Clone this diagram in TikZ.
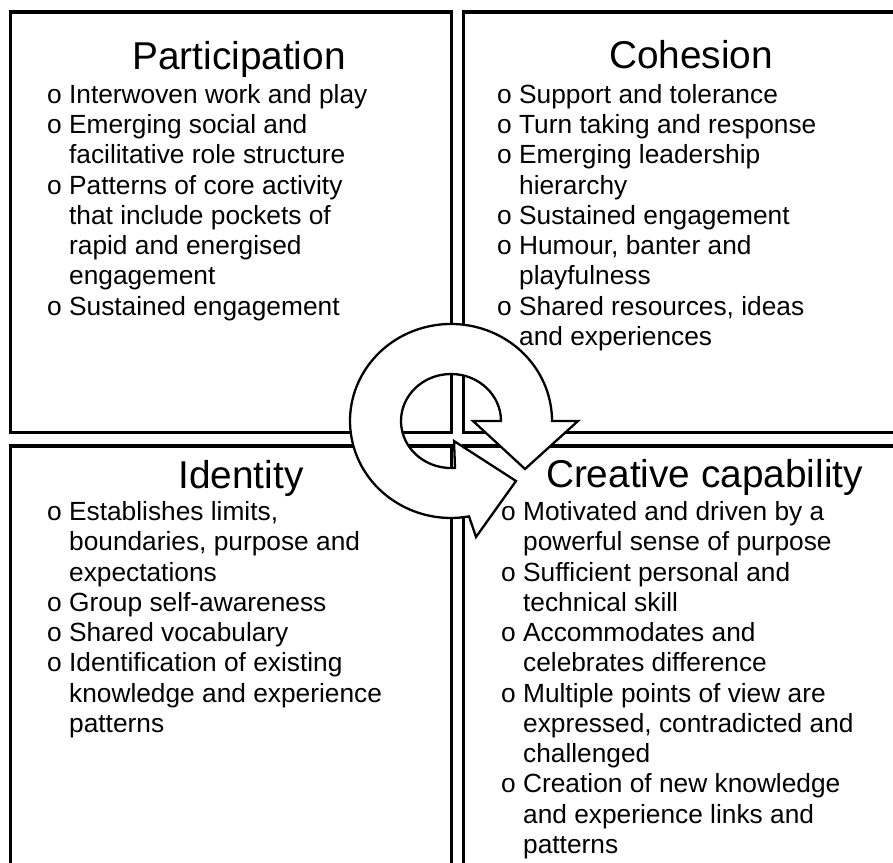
\documentclass[tikz,border=0pt]{standalone}
\usepackage{fontspec}
\setmainfont{Liberation Sans}
\newcommand{\bul}[1]{\hbox{o\ #1}}
\newcommand{\cnt}[1]{\hbox{\hphantom{o\ }#1}}
\begin{document}
\begin{tikzpicture}[x=1pt,y=-1pt,
  box/.style={line width=3.6pt, draw=black},
  ttl/.style={anchor=base, inner sep=0pt, font=\fontsize{38.8pt}{44pt}\selectfont},
  body/.style={anchor=base west, inner sep=0pt, font=\fontsize{26.3pt}{30.27pt}\selectfont},
  cyc/.style={draw=black, fill=white, line width=2.3pt, line join=miter}]
\useasboundingbox (0,0) rectangle (893,862);
\clip (0,0) rectangle (893,862);
% quadrant frames
\draw[box] (10.3,12) rectangle (451.3,432.5);
\draw[box] (463.3,12) rectangle (950,432.5);
\draw[box] (10.3,446) rectangle (451.3,920);
\draw[box] (463.3,446) rectangle (950,920);
% titles
\node[ttl] (tP) at (239,69) {Participation};
\node[ttl] (tC) at (691,68.5) {Cohesion};
\node[ttl] (tI) at (241,488) {Identity};
\node[ttl] (tCC) at (704.5,487) {Creative capability};
% bodies
\node[body] (bP) at (47,103.3) {\vtop{%
  \bul{Interwoven work and play}
  \bul{Emerging social and}
  \cnt{facilitative role structure}
  \bul{Patterns of core activity}
  \cnt{that include pockets of}
  \cnt{rapid and energised}
  \cnt{engagement}
  \bul{Sustained engagement}}};
\node[body] (bC) at (497,103.3) {\vtop{%
  \bul{Support and tolerance}
  \bul{Turn taking and response}
  \bul{Emerging leadership}
  \cnt{hierarchy}
  \bul{Sustained engagement}
  \bul{Humour, banter and}
  \cnt{playfulness}
  \bul{Shared resources, ideas}
  \cnt{and experiences}}};
\node[body] (bI) at (47,520.5) {\vtop{%
  \bul{Establishes limits,}
  \cnt{boundaries, purpose and}
  \cnt{expectations}
  \bul{Group self-awareness}
  \bul{Shared vocabulary}
  \bul{Identification of existing}
  \cnt{knowledge and experience}
  \cnt{patterns}}};
\node[body] (bCC) at (501,520.5) {\vtop{%
  \bul{Motivated and driven by a}
  \cnt{powerful sense of purpose}
  \bul{Sufficient personal and}
  \cnt{technical skill}
  \bul{Accommodates and}
  \cnt{celebrates difference}
  \bul{Multiple points of view are}
  \cnt{expressed, contradicted and}
  \cnt{challenged}
  \bul{Creation of new knowledge}
  \cnt{and experience links and}
  \cnt{patterns}}};
% central cycle arrow
\coordinate (cc) at (451,421);
\draw[cyc] (552,421) -- (578,421) -- (525,469) -- (473,421) -- (501,421)
  arc[start angle=0, end angle=-274.6, x radius=50, y radius=47]
  -- (454,441) -- (516,481) -- (476,537) -- (469.06,516.4)
  arc[start angle=79.7, end angle=360, x radius=101, y radius=97] -- cycle;
\end{tikzpicture}
\end{document}
